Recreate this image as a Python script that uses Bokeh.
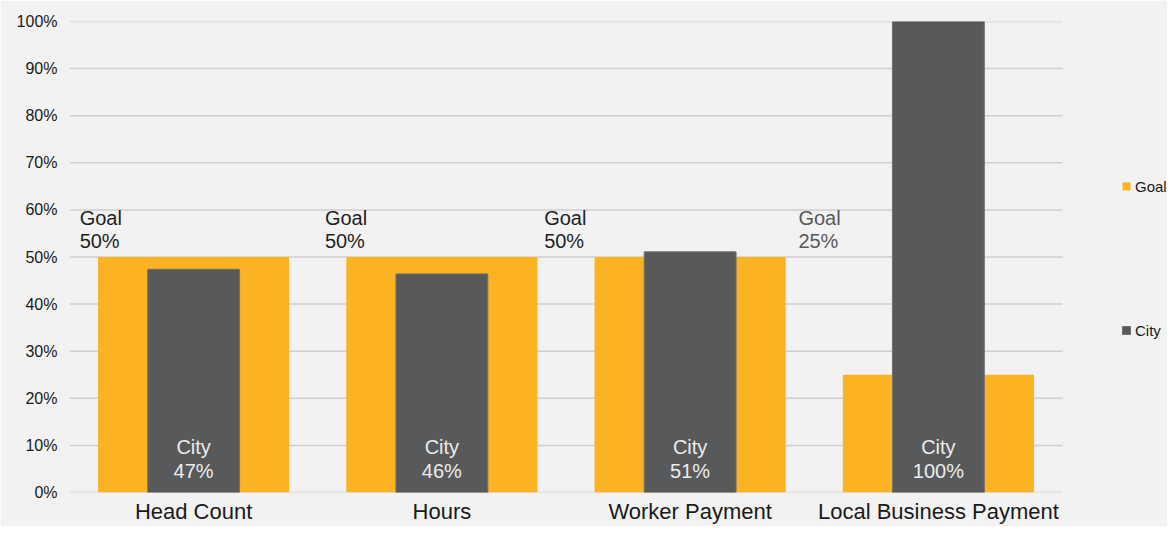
from bokeh.plotting import figure
from bokeh.models import (ColumnDataSource, Range1d, FixedTicker,
                          PrintfTickFormatter, Legend, LegendItem)
from bokeh.embed import file_html
from bokeh.resources import INLINE
from bokeh.core.properties import value

# ---- data ----
categories = ["Head Count", "Hours", "Worker Payment", "Local Business Payment"]
goal = [50, 50, 50, 25]
city = [47.4, 46.4, 51.1, 100]
y_ticks = [0, 10, 20, 30, 40, 50, 60, 70, 80, 90, 100]

# ---- style ----
BG = "#f2f2f2"
GOLD = "#fbb323"
DARK = "#58595b"
FONT = "Liberation Sans"
goal_label_dx = [-114, -117, -146, -140]
goal_label_colors = ["#1f1f1f", "#1f1f1f", "#1f1f1f", "#595959"]

W, H = 1167, 526
LEFT, TOP, BOTTOM = 69, 21, 34
PLOT_W = 993                      # width of the category area in pixels
FRAME_W = W - LEFT                # frame also holds the legend area on the right

n = len(categories)
centers = [i + 0.5 for i in range(n)]
x_end = n * FRAME_W / PLOT_W

src = ColumnDataSource(dict(
    x=centers, goal=goal, city=city,
    goal_txt=[f"Goal\n{round(g)}%" for g in goal],
    city_txt=[f"City\n{round(c)}%" for c in city],
    gdx=goal_label_dx, gcol=goal_label_colors,
    gy=[60] * n, zero=[0] * n,
))

p = figure(x_range=Range1d(0, x_end), y_range=Range1d(0, 100),
           width=W, height=H, output_backend="svg", toolbar_location=None,
           background_fill_color=BG, border_fill_color=BG, outline_line_color=None,
           min_border_left=LEFT, min_border_right=0, min_border_top=TOP,
           min_border_bottom=BOTTOM)

# horizontal grid lines limited to the category area
p.segment(x0=[0] * len(y_ticks), x1=[n] * len(y_ticks), y0=y_ticks, y1=y_ticks,
          line_color="#cfcfcf", line_width=1.5)

r_goal = p.vbar(x="x", top="goal", width=0.77, source=src, fill_color=GOLD, line_color=None)
r_city = p.vbar(x="x", top="city", width=0.37, source=src, fill_color=DARK,
                line_color="#707070", line_width=1)

p.text(x="x", y="gy", text="goal_txt", source=src, x_offset="gdx", y_offset=-3,
       text_font=value(FONT), text_font_size="20px", text_color="gcol",
       text_baseline="top", text_align="left", text_line_height=1.05)
p.text(x="x", y="zero", text="city_txt", source=src, y_offset=-10,
       text_font=value(FONT), text_font_size="20px", text_color="#ececec",
       text_baseline="bottom", text_align="center", text_line_height=1.1)

# axes
p.yaxis.ticker = FixedTicker(ticks=y_ticks)
p.yaxis.formatter = PrintfTickFormatter(format="%d%%")
p.xaxis.ticker = FixedTicker(ticks=centers)
p.xaxis.major_label_overrides = {c: name for c, name in zip(centers, categories)}
for ax in (p.xaxis[0], p.yaxis[0]):
    ax.axis_line_color = None
    ax.major_tick_line_color = None
    ax.minor_tick_line_color = None
    ax.major_tick_out = 0
    ax.major_label_text_font = FONT
    ax.major_label_text_color = "#1a1a1a"
p.yaxis.major_label_text_font_size = "16px"
p.yaxis.major_label_standoff = 12
p.xaxis.major_label_text_font_size = "22px"
p.xaxis.major_label_standoff = 6

p.xgrid.grid_line_color = None
p.ygrid.grid_line_color = None

legend = Legend(items=[LegendItem(label="Goal", renderers=[r_goal]),
                       LegendItem(label="City", renderers=[r_city])],
                location=(1121 - LEFT, 152), orientation="vertical",
                border_line_color=None, background_fill_alpha=0, padding=0, margin=0,
                spacing=124, glyph_width=10, glyph_height=10, label_standoff=4,
                label_text_font=FONT, label_text_font_size="15px",
                label_text_color="#1a1a1a", label_height=20)
p.add_layout(legend)

open("out.html", "w").write(file_html(p, INLINE))
